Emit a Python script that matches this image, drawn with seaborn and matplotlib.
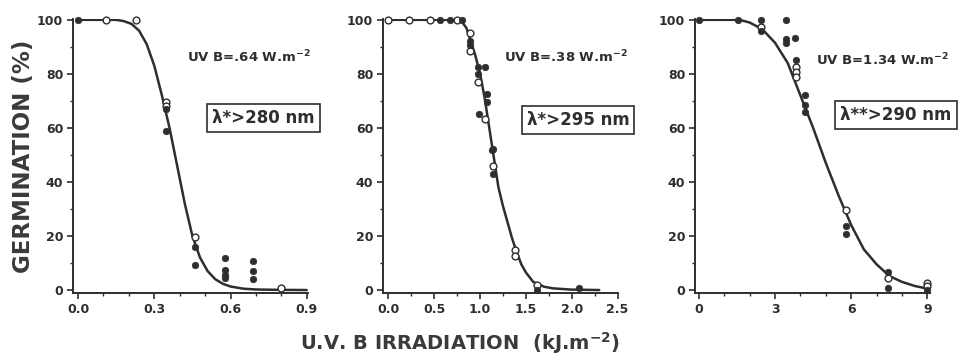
import matplotlib
matplotlib.use("Agg")
import matplotlib.pyplot as plt
from matplotlib.ticker import MultipleLocator
import seaborn as sns
import pandas as pd

# ---------------- data ----------------
# Panel 1 : lambda > 280 nm, UV B = .64 W.m-2
p1_filled_x = [0.0, 0.345, 0.345, 0.46, 0.46, 0.58, 0.58, 0.58, 0.58, 0.69, 0.69, 0.69]
p1_filled_y = [100, 67, 58.7, 16, 9.2, 12, 7.4, 5.6, 4.3, 10.8, 7.1, 3.9]
p1_open_x = [0.11, 0.227, 0.345, 0.345, 0.46, 0.80]
p1_open_y = [100, 100, 69.5, 68, 19.7, 0.6]
p1_curve_x = [0.0, 0.10, 0.15, 0.18, 0.21, 0.24, 0.27, 0.30, 0.33, 0.36, 0.39,
              0.42, 0.45, 0.48, 0.51, 0.54, 0.57, 0.60, 0.65, 0.70, 0.80, 0.90]
p1_curve_y = [100, 100, 100, 99.5, 98.5, 96, 91, 83, 72, 60, 46,
              32, 20, 12, 7, 4, 2.3, 1.3, 0.5, 0.2, 0.05, 0]

# Panel 2 : lambda > 295 nm, UV B = .38 W.m-2
p2_filled_x = [0.56, 0.67, 0.80, 0.89, 0.89, 0.98, 1.05, 0.98, 1.07, 1.07, 0.99,
               1.14, 1.13, 1.14, 2.08, 1.62]
p2_filled_y = [100, 100, 100, 92, 90.7, 82.4, 82.4, 80, 72.6, 69.5, 65,
               52.3, 51.7, 43, 0.6, 0]
p2_open_x = [0.0, 0.22, 0.45, 0.75, 0.89, 0.89, 0.98, 1.05, 1.14, 1.38, 1.38, 1.62]
p2_open_y = [100, 100, 100, 100, 95.3, 88.6, 76.9, 63.3, 46, 14.8, 12.5, 1.8]
p2_curve_x = [0.0, 0.5, 0.75, 0.80, 0.85, 0.90, 0.95, 1.0, 1.05, 1.10, 1.15, 1.20,
              1.25, 1.30, 1.35, 1.40, 1.45, 1.50, 1.58, 1.70, 1.80, 2.0, 2.3]
p2_curve_y = [100, 100, 100, 99.3, 97, 92, 86.5, 80, 71, 60, 49, 38,
              31, 25, 19, 14, 9.5, 6.5, 3, 1.2, 0.6, 0.15, 0]

# Panel 3 : lambda > 290 nm, UV B = 1.34 W.m-2
p3_filled_x = [0.0, 1.55, 2.43, 2.43, 3.45, 3.45, 3.45, 3.78, 3.82, 4.17, 4.17, 4.17,
               5.81, 5.81, 7.45, 7.45, 9.0]
p3_filled_y = [100, 100, 100, 96, 100, 92.9, 91.4, 93.2, 85.2, 72, 68.3, 65.8,
               23.6, 20.9, 6.8, 0.6, 0]
p3_open_x = [2.43, 3.82, 3.82, 3.82, 5.81, 7.45, 9.0, 9.0]
p3_open_y = [97.2, 82.4, 80.6, 79, 29.5, 4.3, 2.7, 1.5]
p3_curve_x = [0, 1.0, 1.6, 2.0, 2.5, 3.0, 3.5, 4.0, 4.5, 5.0, 5.5, 6.0, 6.5,
              7.0, 7.5, 8.0, 8.5, 9.0]
p3_curve_y = [100, 100, 100, 99, 96.5, 91.5, 84, 72, 60, 47, 35, 24, 15,
              9.5, 5.2, 3, 1.5, 0.5]

x_ticks_1 = [0.0, 0.3, 0.6, 0.9]
x_ticks_2 = [0.0, 0.5, 1.0, 1.5, 2.0, 2.5]
x_ticks_3 = [0, 3, 6, 9]
y_ticks = [0, 20, 40, 60, 80, 100]

uv_labels = ["UV B=.64 W.m$^{-2}$", "UV B=.38 W.m$^{-2}$", "UV B=1.34 W.m$^{-2}$"]
box_labels = ["λ*>280 nm", "λ*>295 nm", "λ**>290 nm"]
x_label = "U.V. B IRRADIATION  (kJ.m$^{-2}$)"
y_label = "GERMINATION (%)"

# ---------------- style ----------------
sns.set_theme(style="ticks")
plt.rcParams["font.family"] = ["DejaVu Sans"]
plt.rcParams["mathtext.fontset"] = "dejavusans"
plt.rcParams["mathtext.default"] = "regular"
INK = "#2e2e2e"

fig = plt.figure(figsize=(9.67, 3.59), dpi=100)

panels = [
    dict(fx=p1_filled_x, fy=p1_filled_y, ox=p1_open_x, oy=p1_open_y,
         cx=p1_curve_x, cy=p1_curve_y, xlim=(-0.02, 0.905), ticks=x_ticks_1,
         minor=0.1, fmt="{:.1f}", left=73, uv=(0.75, 0.86), box=(0.81, 0.64)),
    dict(fx=p2_filled_x, fy=p2_filled_y, ox=p2_open_x, oy=p2_open_y,
         cx=p2_curve_x, cy=p2_curve_y, xlim=(-0.06, 2.505), ticks=x_ticks_2,
         minor=0.25, fmt="{:.1f}", left=383, uv=(0.78, 0.86), box=(0.83, 0.63)),
    dict(fx=p3_filled_x, fy=p3_filled_y, ox=p3_open_x, oy=p3_open_y,
         cx=p3_curve_x, cy=p3_curve_y, xlim=(-0.15, 9.1), ticks=x_ticks_3,
         minor=1, fmt="{:.0f}", left=695, uv=(0.80, 0.85), box=(0.855, 0.65)),
]

W, H = 967, 359
for i, p in enumerate(panels):
    ax = fig.add_axes([p["left"] / W, 1 - 293 / H, 235 / W, 274 / H])
    curve = pd.DataFrame({"x": p["cx"], "y": p["cy"]})
    filled = pd.DataFrame({"x": p["fx"], "y": p["fy"]})
    opened = pd.DataFrame({"x": p["ox"], "y": p["oy"]})
    sns.lineplot(data=curve, x="x", y="y", ax=ax, color=INK, lw=1.8,
                 sort=False, zorder=2)
    sns.scatterplot(data=opened, x="x", y="y", ax=ax, s=24, facecolor="white",
                    edgecolor=INK, linewidth=1.0, zorder=3, clip_on=False)
    sns.scatterplot(data=filled, x="x", y="y", ax=ax, s=22, color=INK,
                    edgecolor=INK, linewidth=0.5, zorder=4, clip_on=False)

    ax.set_xlim(*p["xlim"])
    ax.set_ylim(-1.1, 100.3)
    ax.set_xticks(p["ticks"])
    ax.set_xticklabels([p["fmt"].format(t) for t in p["ticks"]])
    ax.xaxis.set_minor_locator(MultipleLocator(p["minor"]))
    ax.set_yticks(y_ticks)
    ax.yaxis.set_minor_locator(MultipleLocator(10))
    ax.set_xlabel("")
    ax.set_ylabel("")
    sns.despine(ax=ax)
    for s in ("left", "bottom"):
        ax.spines[s].set_linewidth(1.4)
        ax.spines[s].set_color(INK)
    ax.tick_params(which="major", direction="out", length=4, width=1.2,
                   color=INK, labelcolor=INK, labelsize=9, pad=3)
    ax.tick_params(which="minor", direction="out", length=2.5, width=1.0,
                   color=INK)
    for lab in ax.get_xticklabels() + ax.get_yticklabels():
        lab.set_fontweight("bold")

    ax.text(p["uv"][0], p["uv"][1], uv_labels[i], transform=ax.transAxes,
            ha="center", va="center", fontsize=9.5, fontweight="bold",
            color=INK)
    ax.text(p["box"][0], p["box"][1], box_labels[i], transform=ax.transAxes,
            ha="center", va="center", fontsize=12, fontweight="bold",
            color=INK, clip_on=False,
            bbox=dict(boxstyle="square,pad=0.3", facecolor="white",
                      edgecolor=INK, linewidth=1.2))

fig.text(24 / W, 1 - (19 + 293) / 2 / H, y_label, rotation=90,
         ha="center", va="center", fontsize=16.5, fontweight="bold", color="#3a3a3a")
fig.text(460 / W, 1 - 343 / H, x_label, ha="center", va="center",
         fontsize=14, fontweight="bold", color="#3a3a3a")

fig.savefig("out.png", dpi=100)
